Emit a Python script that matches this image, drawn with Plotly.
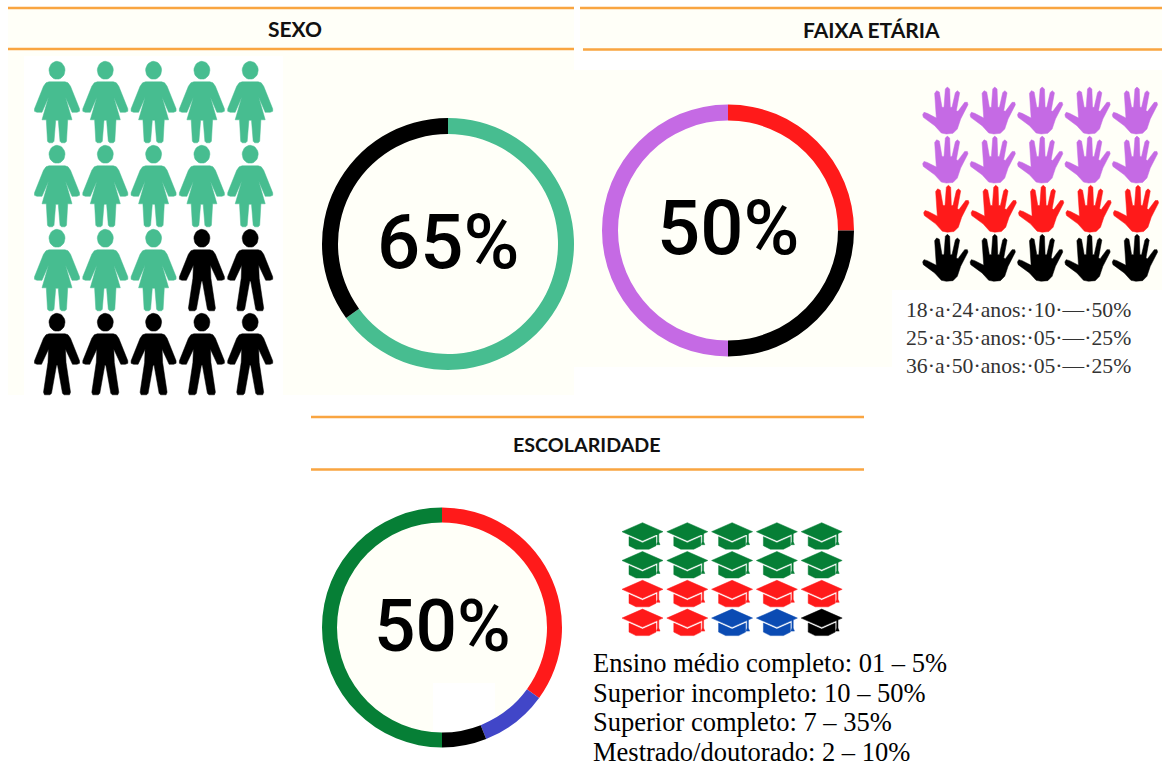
import math
import plotly.graph_objects as go

W, H = 1162, 767
CREAM = "#FFFFF8"
ORANGE = "#F9A541"
GREEN_S = "#47BD90"
PURPLE = "#C56AE4"
RED = "#FF1A1A"
BLACK = "#000000"
DGREEN = "#067F36"
BLUE_R = "#4146C8"
BLUE_C = "#0B4BB3"

sexo_labels = ["Feminino", "Masculino"]
sexo_values = [65, 35]
sexo_counts = [13, 7]
faixa_labels = ["25 a 35 anos", "36 a 50 anos", "18 a 24 anos"]
faixa_values = [25, 25, 50]
faixa_icon_counts = [10, 5, 5]
esc_labels = ["Superior completo", "Mestrado/doutorado", "Ensino médio completo", "Superior incompleto"]
esc_values = [35, 9, 6, 50]
esc_icon_counts = [10, 7, 2, 1]
faixa_text = ["18·a·24·anos:·10·—·50%", "25·a·35·anos:·05·—·25%", "36·a·50·anos:·05·—·25%"]
esc_text = ["Ensino médio completo: 01 – 5%", "Superior incompleto: 10 – 50%",
            "Superior completo: 7 – 35%", "Mestrado/doutorado: 2 – 10%"]

# icon outlines (pixels, relative to the icon's anchor)
def mirror(half):
    return half + [(-x, y) for x, y in reversed(half)]

HEAD = [(8 * math.cos(t * math.pi / 14), 9 * math.sin(t * math.pi / 14)) for t in range(28)]
WOMAN = [HEAD, mirror([(0, 11.5), (8, 11.5), (11, 12.5), (13.5, 16), (22.5, 38.5), (22.5, 41), (20, 42),
                       (15, 42), (8.5, 27), (15, 49.5), (10.7, 49.5), (9.5, 71), (8, 72.5), (4.5, 72.5),
                       (3, 71), (1.3, 50), (0, 50)])]
MAN = [HEAD, mirror([(0, 11.5), (8, 11.5), (11, 12.5), (13.5, 16), (22.5, 38.5), (22.5, 41), (20, 42),
                     (15.5, 42), (8.5, 27), (9, 40), (13.5, 70), (12.5, 72.5), (7, 72.5), (5.5, 71),
                     (0.5, 43), (0, 43)])]
HAND = [[(x / 3, y / 3) for x, y in [
    (14, 92), (18, 85), (28, 88), (55, 102), (50, 28), (56, 20), (64, 24), (72, 70), (78, 70), (82, 15),
    (88, 9), (95, 15), (97, 70), (102, 70), (112, 26), (118, 20), (125, 26), (115, 80), (120, 82),
    (140, 55), (148, 55), (150, 62), (128, 105), (118, 135), (105, 148), (85, 150), (70, 147),
    (50, 125), (16, 100)]]]
CAP = [[(0, 9), (20.5, 0), (41, 9), (20.5, 18)],
       [(7, 14), (20.5, 20), (34, 14), (34, 23), (27, 26.5), (14, 26.5), (7, 23)],
       [(35.5, 11), (36.8, 10.5), (36.8, 19), (38, 22), (34.5, 22), (35.5, 19)]]

fig = go.Figure()

def icon_grid(groups, x0, y0, dx, dy):
    """groups: (count, template, colour, x-shift); fills a 5-column grid row by row."""
    i = 0
    for count, tmpl, colour, shift in groups:
        xs, ys = [], []
        for _ in range(count):
            cx = x0 + (i % 5) * dx + shift
            cy = y0 + (i // 5) * dy
            for poly in tmpl:
                closed = poly + poly[:1]
                xs += [cx + p[0] for p in closed] + [None]
                ys += [cy + p[1] for p in closed] + [None]
            i += 1
        fig.add_trace(go.Scatter(x=xs, y=ys, mode="lines", fill="toself", fillcolor=colour,
                                 line=dict(width=0.5, color=colour), hoverinfo="skip", showlegend=False))

icon_grid([(sexo_counts[0], WOMAN, GREEN_S, 0), (sexo_counts[1], MAN, BLACK, 0)], 57, 70.3, 48.3, 84)
icon_grid([(faixa_icon_counts[0], HAND, PURPLE, 0), (faixa_icon_counts[1], HAND, RED, 1),
           (faixa_icon_counts[2], HAND, BLACK, 0)], 918, 84, 47.4, 49.1)
icon_grid([(esc_icon_counts[0], CAP, DGREEN, 0), (esc_icon_counts[1], CAP, RED, 0),
           (esc_icon_counts[2], CAP, BLUE_C, 0), (esc_icon_counts[3], CAP, BLACK, 0)], 622, 522.7, 44.8, 28.8)

def donut(labels, values, colours, cx, cy, r, hole):
    fig.add_trace(go.Pie(labels=labels, values=values, sort=False, direction="clockwise", rotation=0,
                         hole=hole, textinfo="none", hoverinfo="label+percent", showlegend=False,
                         marker=dict(colors=colours, line=dict(width=0)),
                         domain=dict(x=[(cx - r) / W, (cx + r) / W], y=[1 - (cy + r) / H, 1 - (cy - r) / H])))

donut(sexo_labels, sexo_values, [GREEN_S, BLACK], 448, 244, 126, 0.873)
donut(faixa_labels, faixa_values, [RED, BLACK, PURPLE], 728, 230.5, 126, 0.873)
donut(esc_labels, esc_values, [RED, BLUE_R, BLACK, DGREEN], 442, 627.5, 120, 0.875)

def rect(x0, y0, x1, y1, colour):
    return dict(type="rect", xref="x", yref="y", x0=x0, y0=y0, x1=x1, y1=y1, layer="below",
                fillcolor=colour, line=dict(width=0))

def hline(x0, x1, y):
    return dict(type="line", xref="x", yref="y", x0=x0, x1=x1, y0=y, y1=y, layer="above",
                line=dict(color=ORANGE, width=2.6))

shapes = [
    rect(8, 8, 574, 395, CREAM),
    rect(24, 56, 283, 395, "#FFFFFF"),
    rect(580, 8, 1162, 51, CREAM),
    rect(574, 70, 892, 367, CREAM),
    rect(890, 70, 1162, 290, CREAM),
    dict(type="circle", xref="x", yref="y", x0=335, x1=549, y0=521, y1=735, layer="below",
         fillcolor=CREAM, line=dict(width=0)),
    rect(433, 683, 495, 735, "#FFFFFF"),
    hline(8, 574, 8), hline(8, 574, 49), hline(580, 1162, 8), hline(583, 1162, 49.5),
    hline(311, 864, 417), hline(311, 864, 469.5),
]

def label(x, y, text, size, family, colour="#000000", anchor="center", weight="normal"):
    return dict(xref="x", yref="y", x=x, y=y, text=text, showarrow=False, xanchor=anchor, yanchor="middle",
                font=dict(family=family, size=size, color=colour, weight=weight))

annotations = [
    label(295, 28, "SEXO", 21, "Lato", "#111111", weight="bold"),
    label(871, 29, "FAIXA ETÁRIA", 21, "Lato", "#111111", weight="bold"),
    label(587, 444, "ESCOLARIDADE", 19.7, "Lato", "#111111", weight="bold"),
    label(448, 242, "65%", 76, "Roboto", weight=500),
    label(728, 228, "50%", 76, "Roboto", weight=500),
    label(442, 626, "50%", 73, "Roboto", weight=500),
]
for k, t in enumerate(faixa_text):
    annotations.append(label(904, 310 + k * 28, t, 21.7, "Liberation Serif", "#333333", "left"))
for k, t in enumerate(esc_text):
    annotations.append(label(591, 663 + k * 29.6, t, 26.5, "Liberation Serif", "#000000", "left"))

fig.update_layout(
    width=W, height=H, margin=dict(l=0, r=0, t=0, b=0), paper_bgcolor="#FFFFFF", plot_bgcolor="rgba(0,0,0,0)",
    xaxis=dict(range=[0, W], visible=False, fixedrange=True, domain=[0, 1]),
    yaxis=dict(range=[H, 0], visible=False, fixedrange=True, domain=[0, 1]),
    shapes=shapes, annotations=annotations, showlegend=False,
)
fig.write_html("out.html", config=dict(displayModeBar=False),
               post_script="document.body.style.margin='0';document.body.style.overflow='hidden';")
